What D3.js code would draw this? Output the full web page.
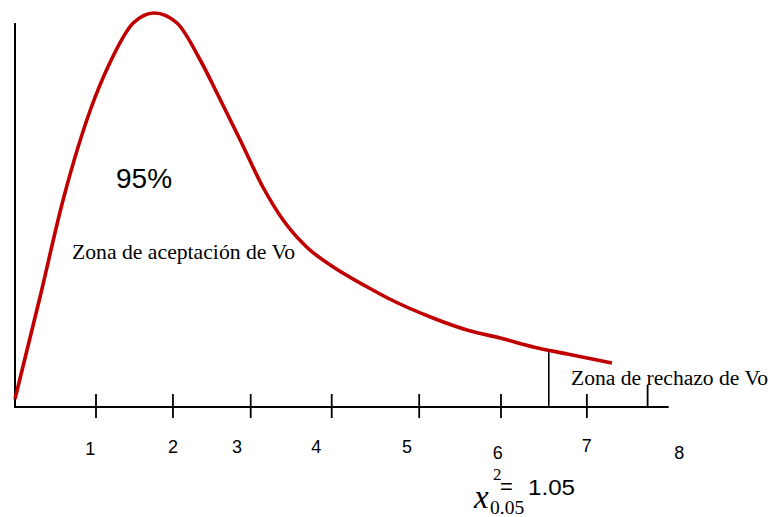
<!DOCTYPE html>
<html>
<head>
<meta charset="utf-8">
<script src="https://cdn.jsdelivr.net/npm/d3@7/dist/d3.min.js"></script>
<style>
  html, body { margin: 0; padding: 0; background: #fff; }
  svg { display: block; }
</style>
</head>
<body>
<script>
// Chi-square density sketch: acceptance / rejection zones
const curveX = [0.0, 0.3, 0.6, 0.93, 1.17, 1.46, 1.72, 2.0, 2.28, 2.53, 2.78, 3.06, 3.31, 3.6, 3.93, 4.35, 4.6, 5.16, 5.58, 5.99, 6.4, 6.82, 7.37];
const curveY = [2, 26.75, 52.25, 74.25, 86, 96, 98.5, 96, 87, 77, 66.75, 55, 46.75, 40, 35, 30, 27.25, 22.25, 19.25, 17.25, 15, 13.25, 11];

const tickValues = [1.0, 1.95, 2.91, 3.91, 4.99, 6.0, 7.06, 7.81];
const tickLabels = ["1", "2", "3", "4", "5", "6", "7", "8"];
const labelAt = [0.93, 1.95, 2.74, 3.72, 4.84, 5.96, 7.06, 8.2];
const labelDrop = [48, 46, 46, 46, 46, 52, 45, 52];

const criticalX = 6.59;
const areaLabel = "95%";
const acceptText = "Zona de aceptación de Vo";
const rejectText = "Zona de rechazo de Vo";
const statValue = "1.05";

const W = 771, H = 517;
const x = d3.scaleLinear().domain([0, 8]).range([15, 663]);
const y = d3.scaleLinear().domain([0, 100]).range([407, 7]);

const svg = d3.select("body").append("svg")
  .attr("width", W).attr("height", H);
svg.append("rect").attr("width", W).attr("height", H).attr("fill", "#fff");

const sans = "'Liberation Sans', Arial, sans-serif";
const serif = "'Liberation Serif', 'Times New Roman', serif";

// axes
svg.append("line")
  .attr("x1", x(0)).attr("x2", x(0))
  .attr("y1", y(96)).attr("y2", y(0) + 1)
  .attr("stroke", "#000").attr("stroke-width", 2);
svg.append("line")
  .attr("x1", x(0) - 1).attr("x2", x(8.07))
  .attr("y1", y(0)).attr("y2", y(0))
  .attr("stroke", "#000").attr("stroke-width", 2);

// tick marks (last one sits above the axis only)
svg.selectAll("line.tick").data(tickValues).join("line")
  .attr("class", "tick")
  .attr("x1", d => x(d)).attr("x2", d => x(d))
  .attr("y1", (d, i) => i === tickValues.length - 1 ? y(0) - 22 : y(0) - 13)
  .attr("y2", (d, i) => i === tickValues.length - 1 ? y(0) : y(0) + 11)
  .attr("stroke", "#000").attr("stroke-width", 1.8);

// tick labels
svg.selectAll("text.tl").data(tickLabels).join("text")
  .attr("class", "tl")
  .attr("x", (d, i) => x(labelAt[i]))
  .attr("y", (d, i) => y(0) + labelDrop[i])
  .attr("text-anchor", "middle")
  .attr("font-family", sans)
  .attr("font-size", 18)
  .attr("fill", "#000")
  .text(d => d);

// critical value line, from axis up to the curve
const pts = curveX.map((v, i) => [v, curveY[i]]);
const k = d3.bisector(d => d[0]).left(pts, criticalX);
const a = pts[k - 1], b = pts[k];
const critY = a[1] + (b[1] - a[1]) * (criticalX - a[0]) / (b[0] - a[0]);
svg.append("line")
  .attr("x1", x(criticalX)).attr("x2", x(criticalX))
  .attr("y1", y(critY) + 2).attr("y2", y(0))
  .attr("stroke", "#000").attr("stroke-width", 1.6);

// density curve
const line = d3.line()
  .x(d => x(d[0])).y(d => y(d[1]))
  .curve(d3.curveMonotoneX);
svg.append("path")
  .datum(pts)
  .attr("d", line)
  .attr("fill", "none")
  .attr("stroke", "#C00000")
  .attr("stroke-width", 3.6)
  .attr("stroke-linejoin", "round");

// annotations
svg.append("text")
  .attr("x", 116).attr("y", 188)
  .attr("font-family", sans)
  .attr("font-size", 28)
  .attr("fill", "#000")
  .text(areaLabel);

svg.append("text")
  .attr("x", 72).attr("y", 259)
  .attr("font-family", serif)
  .attr("font-size", 21.7)
  .attr("fill", "#000")
  .text(acceptText);

svg.append("text")
  .attr("x", 571).attr("y", 385)
  .attr("font-family", serif)
  .attr("font-size", 21.6)
  .attr("fill", "#000")
  .text(rejectText);

// critical statistic: x²(0.05) = 1.05
const f = svg.append("g");
f.append("text")
  .attr("x", 474).attr("y", 508)
  .attr("font-family", serif)
  .attr("font-style", "italic")
  .attr("font-size", 33)
  .text("x");
f.append("text")
  .attr("x", 493).attr("y", 480)
  .attr("font-family", serif)
  .attr("font-size", 17)
  .text("2");
f.append("text")
  .attr("x", 490).attr("y", 514)
  .attr("font-family", serif)
  .attr("font-size", 19.5)
  .text("0.05");
f.append("text")
  .attr("x", 500).attr("y", 494)
  .attr("font-family", sans)
  .attr("font-size", 22)
  .text("=");
f.append("text")
  .attr("x", 528).attr("y", 495)
  .attr("font-family", sans)
  .attr("font-size", 22)
  .attr("textLength", 47)
  .attr("lengthAdjust", "spacingAndGlyphs")
  .text(statValue);
</script>
</body>
</html>
